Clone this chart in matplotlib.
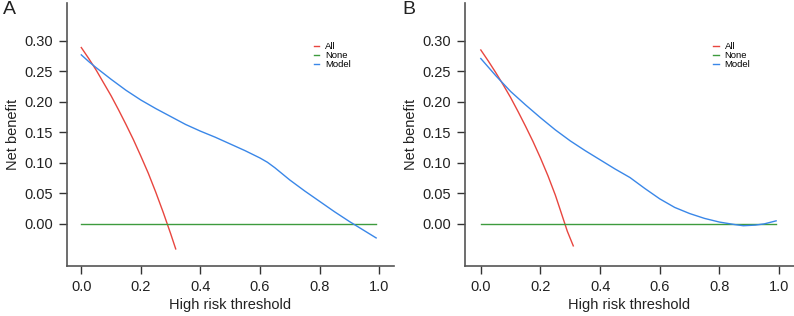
import matplotlib
matplotlib.use("Agg")
import matplotlib.pyplot as plt

plt.rcParams['font.family'] = ['Liberation Sans', 'DejaVu Sans']

# threshold values
all_x_a = [0.0, 0.025, 0.05, 0.075, 0.1, 0.125, 0.15, 0.175, 0.2, 0.225,
           0.25, 0.275, 0.3, 0.317]
all_y_a = [0.289, 0.271, 0.252, 0.231, 0.210, 0.187, 0.163, 0.138, 0.111,
           0.083, 0.052, 0.019, -0.016, -0.041]
model_x_a = [0.0, 0.025, 0.05, 0.1, 0.15, 0.2, 0.25, 0.3, 0.35, 0.4, 0.45,
             0.5, 0.55, 0.6, 0.625, 0.65, 0.7, 0.75, 0.8, 0.85, 0.9, 0.95, 0.99]
model_y_a = [0.277, 0.266, 0.256, 0.237, 0.219, 0.203, 0.189, 0.176, 0.163,
             0.152, 0.142, 0.131, 0.120, 0.108, 0.101, 0.092, 0.072, 0.054,
             0.037, 0.020, 0.004, -0.011, -0.023]

all_x_b = [0.0, 0.025, 0.05, 0.075, 0.1, 0.125, 0.15, 0.175, 0.2, 0.225,
           0.25, 0.265, 0.29, 0.31]
all_y_b = [0.285, 0.267, 0.248, 0.228, 0.207, 0.184, 0.160, 0.135, 0.108,
           0.079, 0.047, 0.025, -0.012, -0.036]
model_x_b = [0.0, 0.05, 0.1, 0.15, 0.2, 0.25, 0.3, 0.35, 0.4, 0.45, 0.5, 0.55,
             0.6, 0.65, 0.7, 0.75, 0.8, 0.85, 0.88, 0.92, 0.95, 0.99]
model_y_b = [0.271, 0.243, 0.217, 0.195, 0.174, 0.154, 0.136, 0.120, 0.105,
             0.090, 0.076, 0.058, 0.041, 0.027, 0.017, 0.009, 0.003, -0.001,
             -0.003, -0.002, 0.000, 0.005]

none_x = [0.0, 0.99]
none_y = [0.0, 0.0]

RED = '#E8463F'
GREEN = '#3E9B3E'
BLUE = '#3A87E8'

fig = plt.figure(figsize=(7.94, 3.16), dpi=100)
W, H = 794, 316


def make_axes(left, right, top, bottom):
    return fig.add_axes([left / W, (H - bottom) / H, (right - left) / W, (bottom - top) / H])


def style(ax, xlim, width_px):
    ax.set_xlim(*xlim)
    ax.set_ylim(-0.069, 0.362)
    for s in ['top', 'right']:
        ax.spines[s].set_visible(False)
    for s in ['left', 'bottom']:
        ax.spines[s].set_color('#555555')
        ax.spines[s].set_linewidth(1.2)
    ax.set_xticks([0.0, 0.2, 0.4, 0.6, 0.8, 1.0])
    ax.set_xticklabels(['0.0', '0.2', '0.4', '0.6', '0.8', '1.0'])
    ax.set_yticks([0.0, 0.05, 0.10, 0.15, 0.20, 0.25, 0.30])
    ax.set_yticklabels(['0.00', '0.05', '0.10', '0.15', '0.20', '0.25', '0.30'])
    ax.tick_params(length=6, width=1, color='#333333', labelsize=10.5,
                   labelcolor='#222222', pad=4)
    ax.set_xlabel('High risk threshold', fontsize=10.5, color='#222222', labelpad=3)
    ax.set_ylabel('Net benefit', fontsize=10.5, color='#222222')
    # right edge of the rotated label sits ~47 px left of the spine
    ax.yaxis.set_label_coords(-47 / width_px, 0.5)


panels = [
    ('A', make_axes(67, 394, 3, 266), (-0.048, 1.05), all_x_a, all_y_a, model_x_a, model_y_a, 3, 327),
    ('B', make_axes(465, 794, 3, 266), (-0.053, 1.05), all_x_b, all_y_b, model_x_b, model_y_b, 402, 329),
]

for letter, ax, xlim, ax_x, ax_y, mx, my, lx, wpx in panels:
    ax.plot(ax_x, ax_y, color=RED, lw=1.0, label='All')
    ax.plot(none_x, none_y, color=GREEN, lw=1.0, label='None')
    ax.plot(mx, my, color=BLUE, lw=1.0, label='Model')
    style(ax, xlim, wpx)
    ax.legend(loc='upper left', bbox_to_anchor=(0.74, 0.87), frameon=False,
              fontsize=6.8, handlelength=0.6, handletextpad=0.6,
              labelspacing=0.02, borderpad=0)
    fig.text(lx / W, 1 - 1 / H, letter, fontsize=14, ha='left', va='top', color='#222222')

fig.savefig('out.png', dpi=100)
